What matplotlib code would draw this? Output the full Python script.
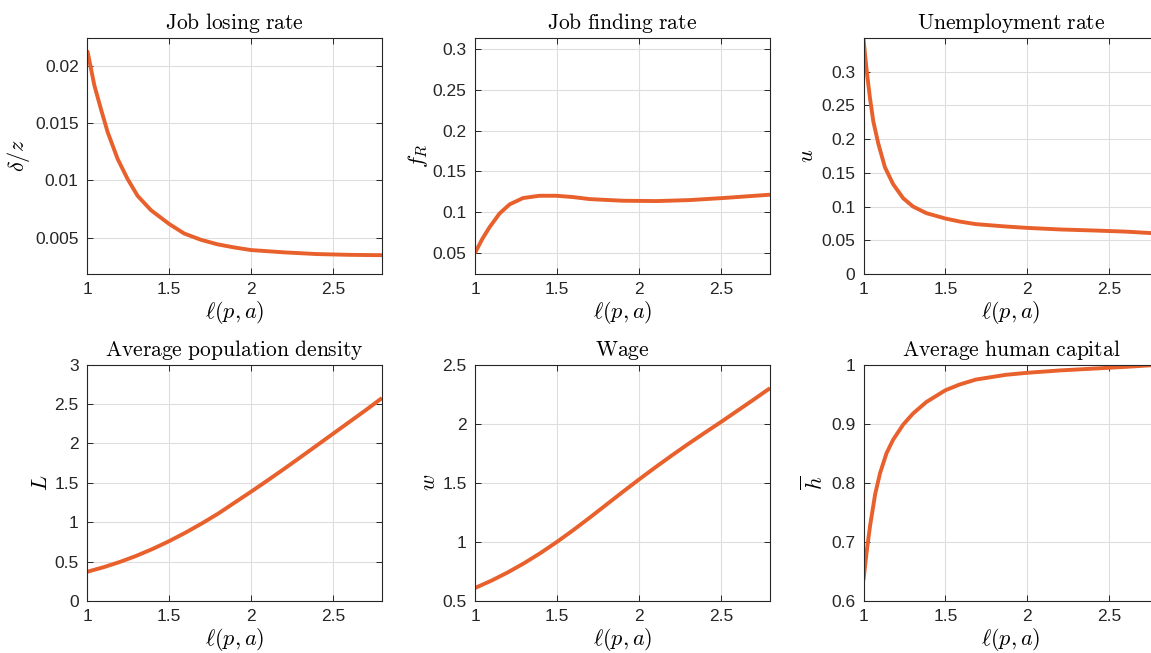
import numpy as np
import matplotlib
matplotlib.use("Agg")
import matplotlib.pyplot as plt

plt.rcParams['font.family'] = ['Liberation Sans', 'DejaVu Sans']
plt.rcParams['mathtext.fontset'] = 'cm'

# values
x_delta = [1.0, 1.004, 1.045, 1.085, 1.126, 1.187, 1.248, 1.309, 1.39, 1.5, 1.593, 1.695, 1.797,
           1.898, 2.0, 2.2, 2.4, 2.6, 2.8]
delta_z = [0.0214, 0.02126, 0.01833, 0.01627, 0.01424, 0.01189, 0.01012, 0.00865, 0.0074, 0.0062,
           0.00535, 0.0048, 0.0044, 0.00413, 0.0039, 0.0037, 0.00355, 0.00348, 0.00345]

x_find = [1.0, 1.045, 1.089, 1.15, 1.211, 1.293, 1.394, 1.496, 1.598, 1.7, 1.902, 2.106, 2.309,
          2.512, 2.8]
f_R = [0.050, 0.0673, 0.0816, 0.0984, 0.1095, 0.1173, 0.1201, 0.1201, 0.1185, 0.1160, 0.1140,
       0.1136, 0.1148, 0.1173, 0.1214]

x_u = [1.0, 1.02, 1.04, 1.06, 1.091, 1.131, 1.181, 1.242, 1.302, 1.383, 1.5, 1.585, 1.685,
       1.867, 2.0, 2.2, 2.4, 2.6, 2.8]
u = [0.348, 0.300, 0.2596, 0.2259, 0.1925, 0.158, 0.133, 0.1123, 0.100, 0.0902, 0.0822,
     0.0778, 0.0739, 0.0704, 0.0683, 0.066, 0.0645, 0.0628, 0.0600]

x_L = [1.0, 1.1, 1.2, 1.3, 1.4, 1.5, 1.6, 1.7, 1.8, 1.9, 2.0, 2.1, 2.2, 2.3, 2.4, 2.5, 2.6, 2.7, 2.8]
L = [0.37, 0.428, 0.495, 0.572, 0.66, 0.758, 0.866, 0.983, 1.108, 1.247, 1.385, 1.527, 1.672, 1.82,
     1.97, 2.12, 2.27, 2.42, 2.575]

x_w = [1.0, 1.1, 1.2, 1.3, 1.4, 1.5, 1.6, 1.7, 1.8, 1.9, 2.0, 2.1, 2.2, 2.3, 2.4, 2.5, 2.6, 2.7, 2.8]
w = [0.61, 0.672, 0.742, 0.82, 0.906, 1.0, 1.1, 1.205, 1.313, 1.421, 1.527, 1.63, 1.73, 1.827,
     1.921, 2.013, 2.108, 2.203, 2.30]

x_h = [1.0, 1.02, 1.04, 1.071, 1.101, 1.141, 1.181, 1.242, 1.302, 1.383, 1.5, 1.585, 1.685, 1.867,
       2.0, 2.2, 2.4, 2.6, 2.8]
h_bar = [0.6356, 0.685, 0.727, 0.7805, 0.8164, 0.8503, 0.8729, 0.8983, 0.917, 0.9365, 0.9565,
         0.966, 0.9745, 0.9825, 0.986, 0.990, 0.993, 0.996, 0.9995]

x_ticks = [1, 1.5, 2, 2.5]
x_tick_labels = ['1', '1.5', '2', '2.5']

panels = [
    (x_delta, delta_z, r'$\mathrm{Job\ losing\ rate}$', r'$\delta/z$', (0.0018, 0.02254),
     [0.005, 0.01, 0.015, 0.02], ['0.005', '0.01', '0.015', '0.02']),
    (x_find, f_R, r'$\mathrm{Job\ finding\ rate}$', r'$f_R$', (0.0241, 0.3143),
     [0.05, 0.1, 0.15, 0.2, 0.25, 0.3], ['0.05', '0.1', '0.15', '0.2', '0.25', '0.3']),
    (x_u, u, r'$\mathrm{Unemployment\ rate}$', r'$u$', (0, 0.3504),
     [0, 0.05, 0.1, 0.15, 0.2, 0.25, 0.3], ['0', '0.05', '0.1', '0.15', '0.2', '0.25', '0.3']),
    (x_L, L, r'$\mathrm{Average\ population\ density}$', r'$L$', (0, 3),
     [0, 0.5, 1, 1.5, 2, 2.5, 3], ['0', '0.5', '1', '1.5', '2', '2.5', '3']),
    (x_w, w, r'$\mathrm{Wage}$', r'$w$', (0.5, 2.5),
     [0.5, 1, 1.5, 2, 2.5], ['0.5', '1', '1.5', '2', '2.5']),
    (x_h, h_bar, r'$\mathrm{Average\ human\ capital}$', r'$\overline{h}$', (0.6, 1),
     [0.6, 0.7, 0.8, 0.9, 1], ['0.6', '0.7', '0.8', '0.9', '1']),
]

W, H = 1151, 653
fig = plt.figure(figsize=(W / 100, H / 100), dpi=100)

lefts = [87, 475, 863.5]
tops = [37.5, 364.5]
aw, ah = 295, 236.5
dark = '#262626'

for i, (xs, ys, title, ylab, ylim, yt, ytl) in enumerate(panels):
    r, c = divmod(i, 3)
    ax = fig.add_axes([lefts[c] / W, 1 - (tops[r] + ah) / H, aw / W, ah / H])
    ax.plot(xs, ys, color='#E8602C', lw=2.8, solid_capstyle='butt', solid_joinstyle='round')
    ax.set_xlim(1, 2.8)
    ax.set_ylim(*ylim)
    ax.set_xticks(x_ticks)
    ax.set_xticklabels(x_tick_labels)
    ax.set_yticks(yt)
    ax.set_yticklabels(ytl)
    ax.grid(True, color='#dedede', lw=0.8)
    ax.set_axisbelow(True)
    ax.tick_params(direction='in', top=True, right=True, length=4, width=0.7,
                   colors=dark, labelsize=12.5, pad=6)
    for s in ax.spines.values():
        s.set_color(dark)
        s.set_linewidth(0.8)
    ax.set_title(title, fontsize=15.5, pad=6, color='black')
    ax.set_xlabel(r'$\ell(p,a)$', fontsize=16, labelpad=1)
    ax.set_ylabel(ylab, fontsize=16, labelpad=2)

fig.savefig('out.png', dpi=100)
